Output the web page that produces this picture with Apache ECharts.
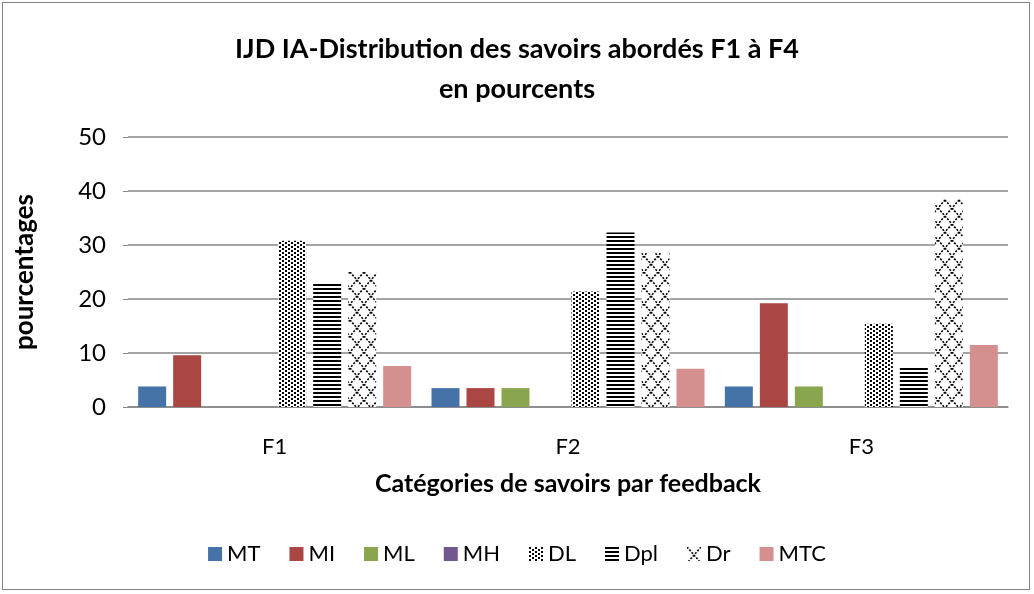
<!DOCTYPE html>
<html><head><meta charset="utf-8">
<script src="https://cdn.jsdelivr.net/npm/echarts@6/dist/echarts.min.js"></script>
<style>
html,body{margin:0;padding:0;background:#fff;}
#wrap{position:absolute;left:2px;top:2px;width:1028px;height:588px;border:1.5px solid #868686;box-sizing:border-box;}
#c{position:absolute;left:0;top:0;width:1034px;height:594px;}
</style></head>
<body>
<div id="wrap"></div>
<div id="c"></div>
<script>
const categories = ['F1', 'F2', 'F3'];
const seriesNames = ['MT', 'MI', 'ML', 'MH', 'DL', 'Dpl', 'Dr', 'MTC'];
const MT  = [3.8, 3.5, 3.8];
const MI  = [9.6, 3.5, 19.2];
const ML  = [0, 3.5, 3.8];
const MH  = [0, 0, 0];
const DL  = [30.8, 21.4, 15.4];
const Dpl = [23.0, 32.3, 7.6];
const Dr  = [25.0, 28.6, 38.5];
const MTC = [7.6, 7.1, 11.5];
const yTicks = [0, 10, 20, 30, 40, 50];

function mk(w, h, draw) {
  const c = document.createElement('canvas');
  c.width = w; c.height = h;
  const g = c.getContext('2d');
  g.fillStyle = '#fff'; g.fillRect(0, 0, w, h);
  draw(g);
  return { image: c, repeat: 'repeat' };
}
const dotPat = mk(6, 4, g => {
  g.fillStyle = '#000';
  g.fillRect(0, 0, 2, 2);
  g.fillRect(3, 2, 2, 2);
});
const linePat = mk(4, 4, g => {
  g.fillStyle = '#000';
  g.fillRect(0, 0, 4, 2);
});
const crossPat = mk(14, 16, g => {
  g.strokeStyle = '#000';
  g.lineWidth = 1.6;
  g.setLineDash([2, 1.5]);
  g.beginPath();
  g.moveTo(0, 0); g.lineTo(14, 16);
  g.moveTo(14, 0); g.lineTo(0, 16);
  g.stroke();
});

const colors = {
  MT: '#4572A7', MI: '#AA4643', ML: '#89A54E', MH: '#71588F',
  DL: dotPat, Dpl: linePat, Dr: crossPat, MTC: '#D4908F'
};
const dataMap = { MT, MI, ML, MH, DL, Dpl, Dr, MTC };
const FONT = 'Lato, "Open Sans", sans-serif';

const chart = echarts.init(document.getElementById('c'));
chart.setOption({
  animation: false,
  title: {
    text: 'IJD IA-Distribution des savoirs abordés F1 à F4\nen pourcents',
    left: 'center', top: 24,
    textStyle: { fontFamily: FONT, fontSize: 27, fontWeight: 'bold', color: '#000', lineHeight: 40 }
  },
  legend: {
    bottom: 24, left: 'center',
    itemWidth: 14, itemHeight: 14, itemGap: 29,
    icon: 'rect',
    textStyle: { fontFamily: FONT, fontSize: 22, color: '#000' },
    data: seriesNames
  },
  grid: { left: 128, right: 26, top: 137, bottom: 187 },
  xAxis: {
    type: 'category', data: categories,
    axisLine: { lineStyle: { color: '#868686', width: 1.5 } },
    axisTick: { show: false },
    axisLabel: { fontFamily: FONT, fontSize: 22, color: '#000', margin: 29 },
    name: 'Catégories de savoirs par feedback',
    nameLocation: 'middle', nameGap: 64,
    nameTextStyle: { fontFamily: FONT, fontSize: 25, fontWeight: 'bold', color: '#000' }
  },
  yAxis: {
    type: 'value', min: 0, max: 50, interval: 10,
    axisLine: { show: false },
    axisTick: { show: true, length: 5, lineStyle: { color: '#868686' } },
    splitLine: { lineStyle: { color: '#868686', width: 1.5 } },
    axisLabel: { fontFamily: FONT, fontSize: 24, color: '#000', margin: 22 },
    name: 'pourcentages', nameLocation: 'middle', nameGap: 90, nameRotate: 90,
    nameTextStyle: { fontFamily: FONT, fontSize: 26, fontWeight: 'bold', color: '#000' }
  },
  series: seriesNames.map(n => ({
    name: n, type: 'bar', data: dataMap[n],
    barWidth: 28, barGap: '25%',
    itemStyle: { color: colors[n] }
  }))
});
</script>
</body></html>
